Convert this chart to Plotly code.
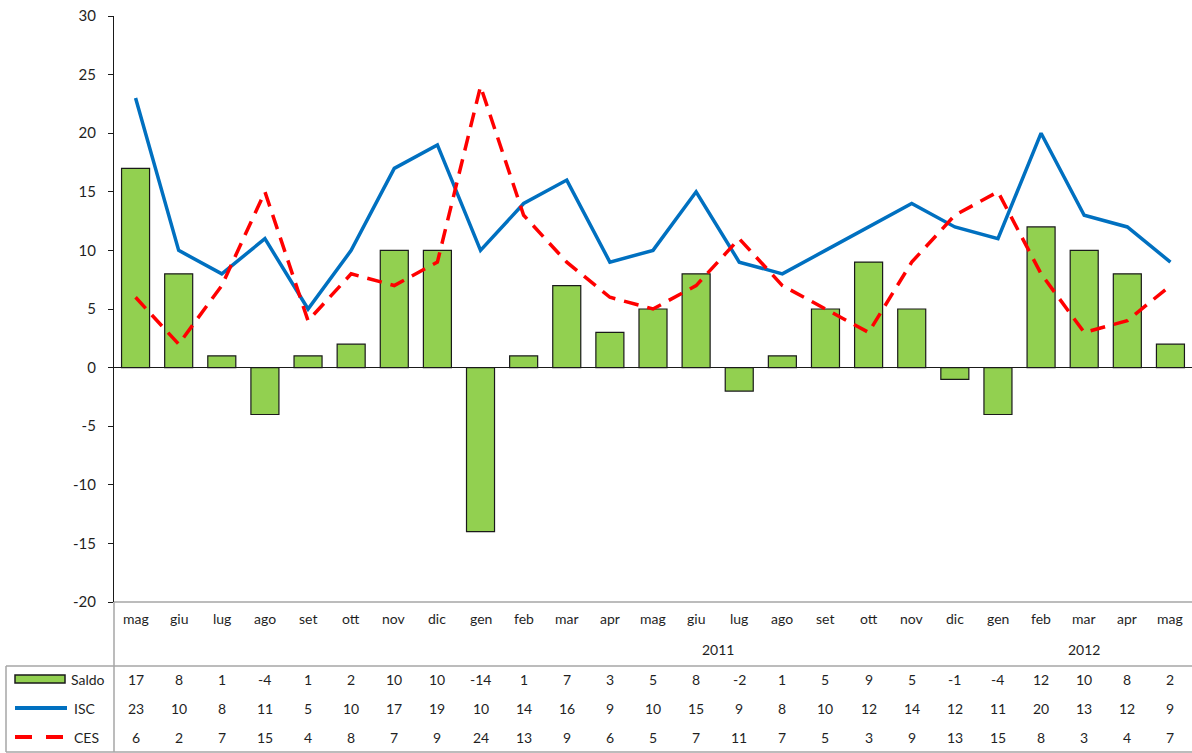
import plotly.graph_objects as go

months = ["mag", "giu", "lug", "ago", "set", "ott", "nov", "dic",
          "gen", "feb", "mar", "apr", "mag", "giu", "lug", "ago", "set", "ott", "nov", "dic",
          "gen", "feb", "mar", "apr", "mag"]
years = [("2011", 8, 19), ("2012", 20, 24)]
saldo = [17, 8, 1, -4, 1, 2, 10, 10, -14, 1, 7, 3, 5, 8, -2, 1, 5, 9, 5, -1, -4, 12, 10, 8, 2]
isc = [23, 10, 8, 11, 5, 10, 17, 19, 10, 14, 16, 9, 10, 15, 9, 8, 10, 12, 14, 12, 11, 20, 13, 12, 9]
ces = [6, 2, 7, 15, 4, 8, 7, 9, 24, 13, 9, 6, 5, 7, 11, 7, 5, 3, 9, 13, 15, 8, 3, 4, 7]
yticks = [-20, -15, -10, -5, 0, 5, 10, 15, 20, 25, 30]

W, H = 1192, 753
L, R, T, B = 114, 0, 16, 151
PW = W - L - R
PH = H - T - B

def px(x):
    return (x - L) / PW

def py(y):
    return (H - B - y) / PH

GREEN = "#92D050"
BLUE = "#0070C0"
RED = "#FF0000"
GRID = "#A6A6A6"
TXT = "#1f1f1f"
FONT = "Lato"
FS = 14

xs = list(range(len(months)))

fig = go.Figure()
fig.add_trace(go.Bar(x=xs, y=saldo, name="Saldo", width=0.65,
                     marker=dict(color=GREEN, line=dict(color="#1a1a1a", width=1.2))))
fig.add_trace(go.Scatter(x=xs, y=isc, name="ISC", mode="lines",
                         line=dict(color=BLUE, width=3.5)))
fig.add_trace(go.Scatter(x=xs, y=ces, name="CES", mode="lines",
                         line=dict(color=RED, width=3.5, dash="15px,9px")))

ann = []
for i, m in enumerate(months):
    ann.append(dict(x=i, y=py(618), xref="x", yref="paper", text=m, showarrow=False,
                    font=dict(family=FONT, size=FS, color=TXT), xanchor="center", yanchor="middle"))
for name, a, b in years:
    ann.append(dict(x=(a + b) / 2, y=py(649), xref="x", yref="paper", text=name, showarrow=False,
                    font=dict(family=FONT, size=FS, color=TXT), xanchor="center", yanchor="middle"))
rows = [(saldo, 679, "Saldo"), (isc, 708, "ISC"), (ces, 737, "CES")]
for vals, ypx, label in rows:
    for i, v in enumerate(vals):
        ann.append(dict(x=i, y=py(ypx), xref="x", yref="paper", text=str(v), showarrow=False,
                        font=dict(family=FONT, size=FS, color=TXT), xanchor="center", yanchor="middle"))
    ann.append(dict(x=px(69 if label == "Saldo" else 72), y=py(ypx), xref="paper", yref="paper",
                    text=label, showarrow=False, font=dict(family=FONT, size=FS, color=TXT),
                    xanchor="left", yanchor="middle"))

def hline(y, x0, x1, color=GRID, width=1.5):
    return dict(type="line", xref="paper", yref="paper", x0=px(x0), x1=px(x1), y0=py(y), y1=py(y),
                line=dict(color=color, width=width))

def vline(x, y0, y1, color=GRID, width=1.5):
    return dict(type="line", xref="paper", yref="paper", x0=px(x), x1=px(x), y0=py(y0), y1=py(y1),
                line=dict(color=color, width=width))

shapes = [
    hline(602, 114, 1192),
    hline(666, 6, 1192),
    hline(752, 6, 1192),
    vline(6, 666, 752),
    vline(114, 602, 752),
    dict(type="rect", xref="paper", yref="paper", x0=px(15), x1=px(65), y0=py(683), y1=py(675),
         fillcolor=GREEN, line=dict(color="#1a1a1a", width=1.5)),
    dict(type="line", xref="paper", yref="paper", x0=px(15), x1=px(67), y0=py(708), y1=py(708),
         line=dict(color=BLUE, width=4)),
    dict(type="line", xref="paper", yref="paper", x0=px(15), x1=px(63), y0=py(737), y1=py(737),
         line=dict(color=RED, width=4, dash="17px,14px")),
]

fig.update_layout(
    width=W, height=H,
    margin=dict(l=L, r=R, t=T, b=B),
    plot_bgcolor="white", paper_bgcolor="white",
    showlegend=False,
    bargap=0.35,
    annotations=ann,
    shapes=shapes,
    xaxis=dict(range=[-0.5, len(months) - 0.5], showticklabels=False, showgrid=False,
               zeroline=False, showline=False, ticks=""),
    yaxis=dict(range=[-20, 30], tickvals=yticks, ticktext=[str(t) for t in yticks],
               showgrid=False, zeroline=True, zerolinecolor="#1a1a1a",
               zerolinewidth=1.2, showline=True, linecolor="#1a1a1a", linewidth=1.2,
               ticks="outside", ticklen=5, tickcolor="#1a1a1a", ticklabelstandoff=9,
               tickfont=dict(family=FONT, size=15, color=TXT)),
)

fig.write_html("out.html", config={"displayModeBar": False},
               post_script="document.body.style.margin='0';document.body.style.overflow='hidden';")
